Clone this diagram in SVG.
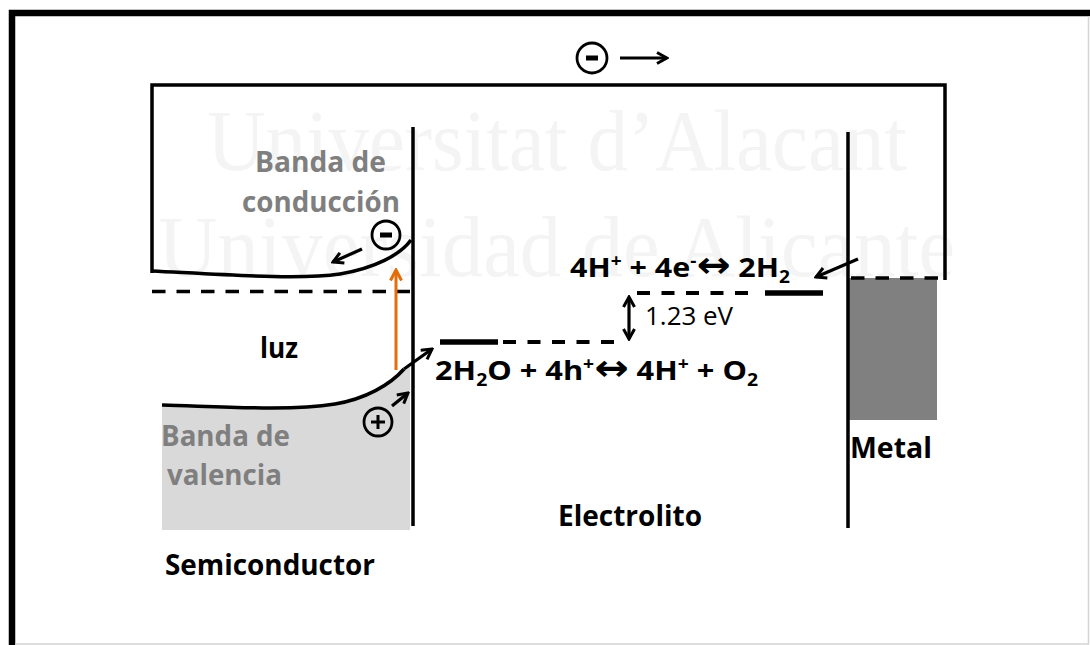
<svg xmlns="http://www.w3.org/2000/svg" width="1090" height="645" viewBox="0 0 1090 645">
<defs>
<style>
.ln{fill:none;stroke:#000;stroke-width:3.5;stroke-linecap:butt}
.thin{fill:none;stroke:#000;stroke-width:2.8}
.arr{fill:none;stroke:#000;stroke-width:3.2}
.dash{fill:none;stroke:#000;stroke-width:3.5;stroke-dasharray:13.5 11}
.lvl{fill:none;stroke:#000;stroke-width:5.5}
.lvld{fill:none;stroke:#000;stroke-width:4;stroke-dasharray:13 11.5}
.lbl{font-family:"Open Sans","Noto Sans","Liberation Sans",sans-serif;font-weight:700;font-size:28px;fill:#000}
.grey{fill:#7f7f7f}
.eq{font-family:"Open Sans","Noto Sans","DejaVu Sans",sans-serif;font-weight:700;font-size:27px;fill:#000}
.dbl{font-family:"DejaVu Sans",sans-serif;font-size:36px}
.wm{font-family:"Liberation Serif","DejaVu Serif",serif;font-size:86px;fill:#f4f4f4}
</style>
<marker id="ah" viewBox="0 0 14 14" refX="12" refY="7" markerWidth="14" markerHeight="14" markerUnits="userSpaceOnUse" orient="auto-start-reverse">
<path d="M2,1.5 L12,7 L2,12.5" fill="none" stroke="#000" stroke-width="3"/>
</marker>
<marker id="ahO" viewBox="0 0 14 14" refX="12" refY="7" markerWidth="14" markerHeight="14" markerUnits="userSpaceOnUse" orient="auto">
<path d="M1.5,1.5 L12,7 L1.5,12.5" fill="none" stroke="#E46C0A" stroke-width="3"/>
</marker>
</defs>
<rect x="0" y="0" width="1090" height="645" fill="#fff"/>
<g id="watermark">
<text class="wm" x="207" y="170" textLength="700" lengthAdjust="spacingAndGlyphs">Universitat d’Alacant</text>
<text class="wm" x="158" y="276" textLength="797" lengthAdjust="spacingAndGlyphs">Universidad de Alicante</text>
</g>
<g id="frame">
<path d="M12,645 L12,13 L1090,13" fill="none" stroke="#000" stroke-width="6.5"/>
<path d="M15,644 L1088.5,644 L1088.5,16" fill="none" stroke="#d4d4d4" stroke-width="1.5"/>
</g>
<g id="semiconductor">
<path d="M162,405 C230,407 290,411 335,404 C365,399 390,385 404,369 L410,364 L410,530 L162,530 Z" fill="#d9d9d9"/>
<path class="ln" d="M152,271 C230,275 300,280 340,274 C375,268 400,255 411,240" stroke-width="3"/>
<path class="ln" d="M162,405 C230,407 290,411 335,404 C365,399 390,385 404,369" stroke-width="3"/>
<path class="dash" d="M152,291.5 L410,291.5"/>
<line class="ln" x1="413" y1="127" x2="413" y2="526" stroke-width="4"/>
<text class="lbl grey" x="255" y="172" textLength="131" lengthAdjust="spacingAndGlyphs">Banda de</text>
<text class="lbl grey" x="242" y="212" textLength="158" lengthAdjust="spacingAndGlyphs">conducción</text>
<text class="lbl" x="260" y="358" textLength="38" lengthAdjust="spacingAndGlyphs">luz</text>
<text class="lbl grey" x="161" y="446" textLength="129" lengthAdjust="spacingAndGlyphs">Banda de</text>
<text class="lbl grey" x="167" y="485" textLength="115" lengthAdjust="spacingAndGlyphs">valencia</text>
<text class="lbl" x="165" y="575" textLength="210" lengthAdjust="spacingAndGlyphs">Semiconductor</text>
</g>
<g id="electron-top">
<circle class="thin" cx="592" cy="58" r="15"/>
<rect x="586" y="55.5" width="12" height="5" fill="#000"/>
</g>
<g id="electron-cb">
<circle class="thin" cx="386" cy="235" r="14"/>
<rect x="380" y="232.5" width="12" height="5" fill="#000"/>
</g>
<g id="hole-vb">
<circle class="thin" cx="378" cy="422" r="14"/>
<path d="M371,422 L385,422 M378,415 L378,429" stroke="#000" stroke-width="3"/>
</g>
<g id="electrolyte">
<path class="lvl" d="M765,293 L823,293"/>
<path class="lvld" d="M637,293 L752,293"/>
<path class="lvl" d="M440,342 L498,342"/>
<path class="lvld" d="M503,342 L618,342"/>
<text class="eq" x="570" y="277" textLength="220" lengthAdjust="spacingAndGlyphs">4H<tspan font-size="17" dy="-10">+</tspan><tspan dy="10"> + 4e</tspan><tspan font-size="17" dy="-10">-</tspan><tspan class="dbl" dy="10">↔</tspan><tspan> 2H</tspan><tspan font-size="17" dy="6">2</tspan></text>
<text class="eq" x="435" y="380" textLength="323" lengthAdjust="spacingAndGlyphs">2H<tspan font-size="17" dy="6">2</tspan><tspan dy="-6">O + 4h</tspan><tspan font-size="17" dy="-10">+</tspan><tspan class="dbl" dy="10">↔</tspan><tspan> 4H</tspan><tspan font-size="17" dy="-10">+</tspan><tspan dy="10"> + O</tspan><tspan font-size="17" dy="6">2</tspan></text>
<text x="645" y="325" font-family="'Open Sans','Noto Sans','Liberation Sans',sans-serif" font-size="25" fill="#000" textLength="88" lengthAdjust="spacingAndGlyphs">1.23 eV</text>
<text class="lbl" x="558" y="526" textLength="144" lengthAdjust="spacingAndGlyphs">Electrolito</text>
</g>
<g id="metal">
<rect x="849" y="278" width="88" height="142" fill="#808080"/>
<path class="dash" d="M851,278 L943,278"/>
<line class="ln" x1="848" y1="132" x2="848" y2="528" stroke-width="4"/>
<text class="lbl" x="850" y="458" textLength="82" lengthAdjust="spacingAndGlyphs">Metal</text>
</g>
<g id="connectors">
<path class="ln" d="M152,273 L152,85 L945,85 L945,280"/>
<line class="arr" x1="620" y1="58" x2="667" y2="58" marker-end="url(#ah)"/>
<line class="arr" x1="362" y1="249" x2="333" y2="262" marker-end="url(#ah)"/>
<line class="arr" x1="392" y1="406" x2="408" y2="393" marker-end="url(#ah)"/>
<line class="arr" x1="404" y1="369" x2="432" y2="349" marker-end="url(#ah)"/>
<line class="arr" x1="858" y1="259" x2="816" y2="277" marker-end="url(#ah)"/>
<line class="arr" x1="629" y1="297" x2="629" y2="339" marker-start="url(#ah)" marker-end="url(#ah)"/>
<line x1="396" y1="370" x2="396" y2="270" stroke="#E46C0A" stroke-width="3" marker-end="url(#ahO)"/>
</g>
</svg>
